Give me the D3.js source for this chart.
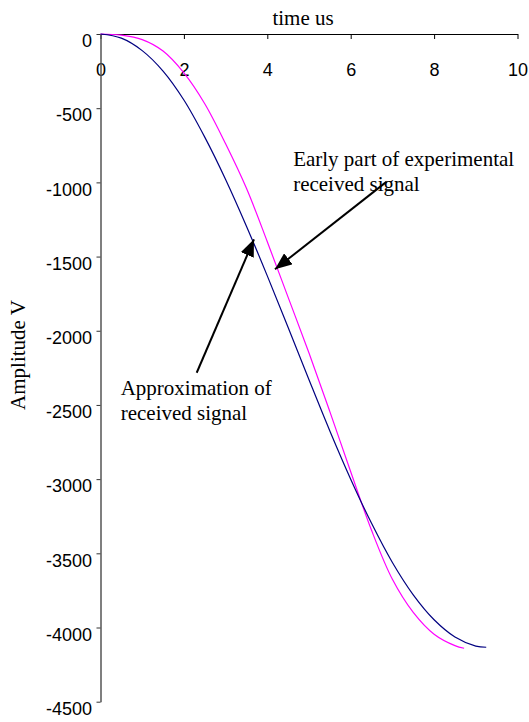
<!DOCTYPE html>
<html>
<head>
<meta charset="utf-8">
<script src="https://cdn.jsdelivr.net/npm/d3@7"></script>
<style>
  body { margin: 0; background: #fff; }
  .tick text { font-family: "Liberation Sans", Arial, sans-serif; font-size: 18px; fill: #000; }
  .serif { font-family: "Liberation Serif", "Times New Roman", serif; font-size: 21px; fill: #000; }
</style>
</head>
<body>
<svg width="529" height="722"></svg>
<script>
// time in us
var approxTime = [0, 0.5, 1, 1.5, 2, 2.5, 3, 3.5, 4, 4.5, 5, 5.5, 6, 6.5, 7, 7.5, 8, 8.5, 9, 9.25];
var approxAmp  = [0, -28, -112, -250, -445, -695, -980, -1295, -1630, -1978, -2330, -2675, -3000, -3298, -3562, -3780, -3948, -4064, -4125, -4133];

var expTime = [0, 0.5, 1, 1.5, 2, 2.5, 3, 3.5, 4, 4.5, 5, 5.5, 6, 6.5, 7, 7.5, 8, 8.5, 8.72];
var expAmp  = [0, -8, -38, -115, -262, -470, -740, -1040, -1400, -1775, -2150, -2545, -2950, -3345, -3675, -3898, -4045, -4122, -4140];

var xTicks = [0, 2, 4, 6, 8, 10];
var yTicks = [0, -500, -1000, -1500, -2000, -2500, -3000, -3500, -4000, -4500];

var svg = d3.select("svg");

var x = d3.scaleLinear().domain([0, 10]).range([100.5, 517.5]),
    y = d3.scaleLinear().domain([-4500, 0]).range([701.7, 34]);

var plain = function(d) { return String(d); };

// x axis sits on the zero line at the top
var xAxis = svg.append("g")
    .attr("transform", "translate(0," + y(0) + ")")
    .call(d3.axisBottom(x).tickValues(xTicks).tickFormat(plain).tickSizeInner(5).tickSizeOuter(0));
xAxis.select(".domain").attr("stroke", "#000");
xAxis.selectAll(".tick line").attr("stroke", "#000");
xAxis.selectAll(".tick text").attr("y", 42).attr("dy", 0);

var yAxis = svg.append("g")
    .attr("transform", "translate(" + x(0) + ",0)")
    .call(d3.axisLeft(y).tickValues(yTicks).tickFormat(plain).tickSizeInner(4).tickSizeOuter(0));
yAxis.select(".domain").attr("stroke", "#555").attr("stroke-width", 1.5);
yAxis.selectAll(".tick line").attr("stroke", "#333");
yAxis.selectAll(".tick text").attr("x", -8.5).attr("y", 12.7).attr("dy", 0);

svg.append("text")
    .attr("class", "serif")
    .attr("x", 303)
    .attr("y", 25)
    .attr("text-anchor", "middle")
    .text("time us");

svg.append("text")
    .attr("class", "serif")
    .attr("transform", "translate(25,355) rotate(-90)")
    .attr("text-anchor", "middle")
    .text("Amplitude V");

var line = d3.line()
    .x(function(d) { return x(d[0]); })
    .y(function(d) { return y(d[1]); })
    .curve(d3.curveCatmullRom.alpha(0.5));

svg.append("path")
    .datum(d3.zip(expTime, expAmp))
    .attr("fill", "none")
    .attr("stroke", "#ff00ff")
    .attr("stroke-width", 1.2)
    .attr("d", line);

svg.append("path")
    .datum(d3.zip(approxTime, approxAmp))
    .attr("fill", "none")
    .attr("stroke", "#000080")
    .attr("stroke-width", 1.2)
    .attr("d", line);

// annotations
svg.append("defs").append("marker")
    .attr("id", "head")
    .attr("markerUnits", "userSpaceOnUse")
    .attr("markerWidth", 18)
    .attr("markerHeight", 14)
    .attr("refX", 17)
    .attr("refY", 7)
    .attr("orient", "auto")
  .append("path")
    .attr("d", "M0,0L17,7L0,14Z")
    .attr("fill", "#000");

var arrows = [
  {from: [6.863, -995], to: [4.185, -1586]},
  {from: [2.307, -2283], to: [3.681, -1384]}
];

svg.selectAll(".arrow")
    .data(arrows)
    .enter().append("line")
      .attr("class", "arrow")
      .attr("x1", function(d) { return x(d.from[0]); })
      .attr("y1", function(d) { return y(d.from[1]); })
      .attr("x2", function(d) { return x(d.to[0]); })
      .attr("y2", function(d) { return y(d.to[1]); })
      .attr("stroke", "#000")
      .attr("stroke-width", 2)
      .attr("marker-end", "url(#head)");

var notes = [
  {t: 4.62, v: -890, lines: ["Early part of experimental", "received signal"]},
  {t: 0.484, v: -2433, lines: ["Approximation of", "received signal"]}
];

notes.forEach(function(n) {
  var txt = svg.append("text")
      .attr("class", "serif")
      .attr("x", x(n.t))
      .attr("y", y(n.v));
  n.lines.forEach(function(s, i) {
    txt.append("tspan")
        .attr("x", x(n.t))
        .attr("dy", i == 0 ? 0 : 24.5)
        .text(s);
  });
});
</script>
</body>
</html>
